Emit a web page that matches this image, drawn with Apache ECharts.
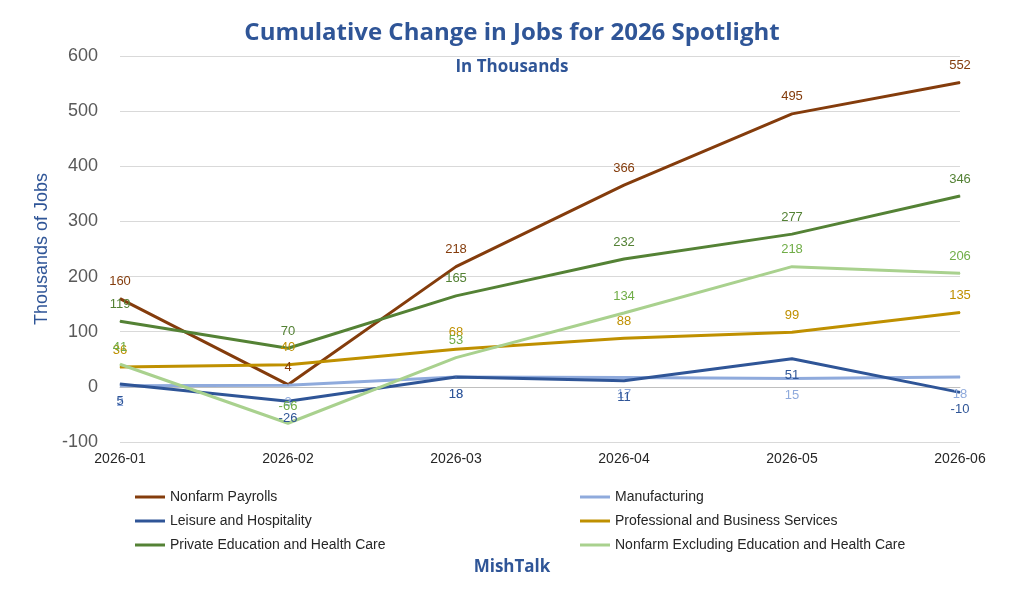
<!DOCTYPE html>
<html><head><meta charset="utf-8">
<script src="https://cdn.jsdelivr.net/npm/echarts@6/dist/echarts.min.js"></script>
<style>html,body{margin:0;background:#fff}#c{width:1024px;height:613px}</style>
</head><body><div id="c"></div>
<script>
const categories = ['2026-01','2026-02','2026-03','2026-04','2026-05','2026-06'];
const nonfarm = [160, 4, 218, 366, 495, 552];
const manufacturing = [2, 3, 18, 17, 15, 18];
const leisure = [5, -26, 18, 11, 51, -10];
const professional = [36, 40, 68, 88, 99, 135];
const privateEd = [119, 70, 165, 232, 277, 346];
const nonfarmExEd = [41, -66, 53, 134, 218, 206];
const yTicks = [-100, 0, 100, 200, 300, 400, 500, 600];

const chart = echarts.init(document.getElementById('c'));
function s(name, data, color, labelColor, pos) {
  return {
    name, type: 'line', data, symbol: 'circle', symbolSize: 1, showSymbol: true,
    lineStyle: { color, width: 3 }, itemStyle: { color },
    label: { show: true, color: labelColor, fontSize: 13, fontFamily: 'Liberation Sans',
      position: pos, distance: 10 },
    labelLayout: { hideOverlap: false }
  };
}
const font = 'Liberation Sans';
chart.setOption({
  animation: false,
  title: [
    { text: 'Cumulative Change in Jobs for 2026 Spotlight', left: 'center', top: 16,
      textStyle: { color: '#2F5597', fontSize: 24, fontWeight: 'bold', fontFamily: 'Open Sans' } },
    { text: 'In Thousands', left: 'center', top: 54,
      textStyle: { color: '#2F5597', fontSize: 17, fontWeight: 'bold', fontFamily: 'Open Sans' } },
    { text: 'MishTalk', left: 'center', top: 554,
      textStyle: { color: '#2F5597', fontSize: 17, fontWeight: 'bold', fontFamily: 'Open Sans' } }
  ],
  grid: { left: 120, right: 64, top: 56, bottom: 171 },
  xAxis: { type: 'category', data: categories, boundaryGap: false,
    axisLine: { lineStyle: { color: '#bfbfbf' } }, axisTick: { show: false },
    axisLabel: { color: '#262626', fontSize: 14, fontFamily: font, margin: 10 } },
  yAxis: { type: 'value', min: yTicks[0], max: yTicks[yTicks.length-1], interval: 100,
    name: 'Thousands of Jobs', nameLocation: 'middle', nameGap: 68,
    nameTextStyle: { color: '#2F5597', fontSize: 18, fontFamily: font },
    axisLine: { show: false }, axisTick: { show: false },
    splitLine: { lineStyle: { color: '#d9d9d9' } },
    axisLabel: { color: '#595959', fontSize: 18, fontFamily: font, margin: 22 } },
  legend: [
    { orient: 'vertical', left: 130, top: 485, itemWidth: 30, itemHeight: 14, itemGap: 10,
      icon: 'path://M0,6H30V9H0Z',
      textStyle: { color: '#262626', fontSize: 14, fontFamily: font },
      data: ['Nonfarm Payrolls', 'Leisure and Hospitality', 'Private Education and Health Care'] },
    { orient: 'vertical', left: 575, top: 485, itemWidth: 30, itemHeight: 14, itemGap: 10,
      icon: 'path://M0,6H30V9H0Z',
      textStyle: { color: '#262626', fontSize: 14, fontFamily: font },
      data: ['Manufacturing', 'Professional and Business Services', 'Nonfarm Excluding Education and Health Care'] }
  ],
  series: [
    s('Nonfarm Payrolls', nonfarm, '#843C0C', '#843C0C', 'top'),
    s('Manufacturing', manufacturing, '#8FAADC', '#8FAADC', 'bottom'),
    s('Leisure and Hospitality', leisure, '#2F5597', '#2F5597', 'bottom'),
    s('Professional and Business Services', professional, '#BF9000', '#BF9000', 'top'),
    s('Private Education and Health Care', privateEd, '#548235', '#548235', 'top'),
    s('Nonfarm Excluding Education and Health Care', nonfarmExEd, '#A9D18E', '#70AD47', 'top')
  ]
});
</script></body></html>
